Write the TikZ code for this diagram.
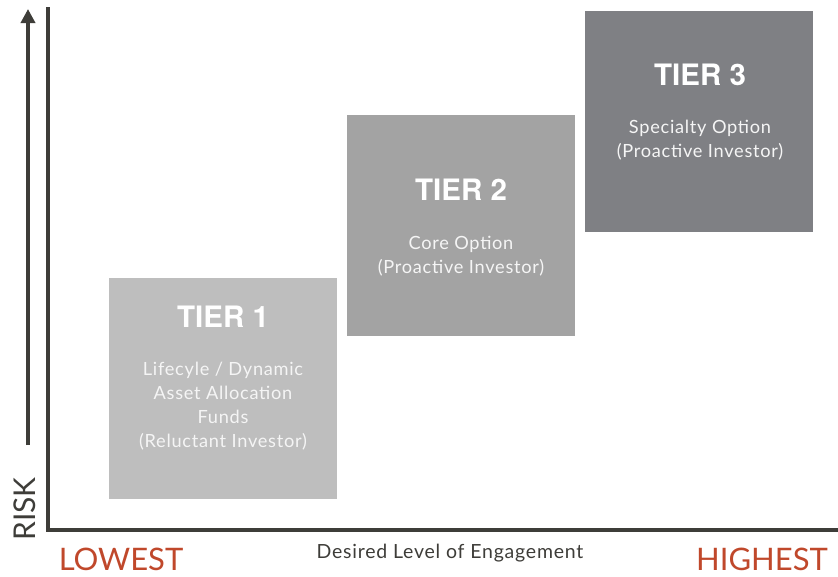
\documentclass[tikz,border=0pt]{standalone}
\usepackage{fontspec}
\setmainfont{Lato}
\newfontfamily\descfont{Lato}[LetterSpace=4]
\newfontfamily\tierfont{TeX Gyre Heros}
\usetikzlibrary{arrows.meta}
\definecolor{axisc}{HTML}{3E3D39}
\definecolor{redc}{HTML}{C0482B}
\definecolor{tone}{HTML}{BEBEBE}
\definecolor{ttwo}{HTML}{A3A3A3}
\definecolor{tthree}{HTML}{7F8084}
\definecolor{txtc}{HTML}{3E3D39}
\tikzset{
  tierbox/.style={draw=none, minimum width=228pt, minimum height=221pt, inner sep=0pt},
  tiertitle/.style={text=white, font=\tierfont\bfseries\fontsize{29.5}{32}\selectfont, inner sep=0pt},
  tierdesc/.style={text=white!96!black, font=\descfont\fontsize{18.2}{24}\selectfont, align=center, inner sep=0pt},
  axisline/.style={draw=axisc, line width=4pt},
  endlabel/.style={text=redc, font=\fontsize{31}{34}\selectfont, inner sep=0pt, anchor=base}
}
\begin{document}
\begin{tikzpicture}[x=1pt,y=-1pt]
\useasboundingbox (0,0) rectangle (838,576);
% axes
\coordinate (top) at (48,9);
\coordinate (origin) at (48,530);
\coordinate (right) at (836,530);
\draw[axisline, line cap=rect] (top) -- (origin) -- (right);
% risk arrow
\coordinate (rbot) at (28,445);
\coordinate (rtop) at (28,9);
\draw[axisc, line width=3.5pt, -{Triangle[length=14pt,width=14pt]}] (rbot) -- (rtop);
\node[text=txtc, font=\fontsize{30}{32}\selectfont, rotate=90, inner sep=0pt] (risk) at (25,509) {RISK};
% tiers
\node[tierbox, fill=tone, anchor=north west] (t1) at (109,278) {};
\node[tierbox, fill=ttwo, anchor=north west] (t2) at (347,115) {};
\node[tierbox, fill=tthree, anchor=north west] (t3) at (585,11) {};
\node[tiertitle] (t1h) at (223,317) {TIER 1};
\node[tierdesc] (t1d) at (223,406) {Lifecyle / Dynamic\\Asset Allocation\\Funds\\(Reluctant Investor)};
\node[tiertitle] (t2h) at (461,190) {TIER 2};
\node[tierdesc] (t2d) at (461,256) {Core Option\\(Proactive Investor)};
\node[tiertitle] (t3h) at (700,75) {TIER 3};
\node[tierdesc] (t3d) at (700,140) {Specialty Option\\(Proactive Investor)};
% bottom labels
\node[endlabel] (low) at (121,570) {LOWEST};
\node[endlabel] (high) at (762,570) {HIGHEST};
\node[text=txtc, font=\descfont\fontsize{19.5}{21}\selectfont, inner sep=0pt] (eng) at (450,553) {Desired Level of Engagement};
\end{tikzpicture}
\end{document}
